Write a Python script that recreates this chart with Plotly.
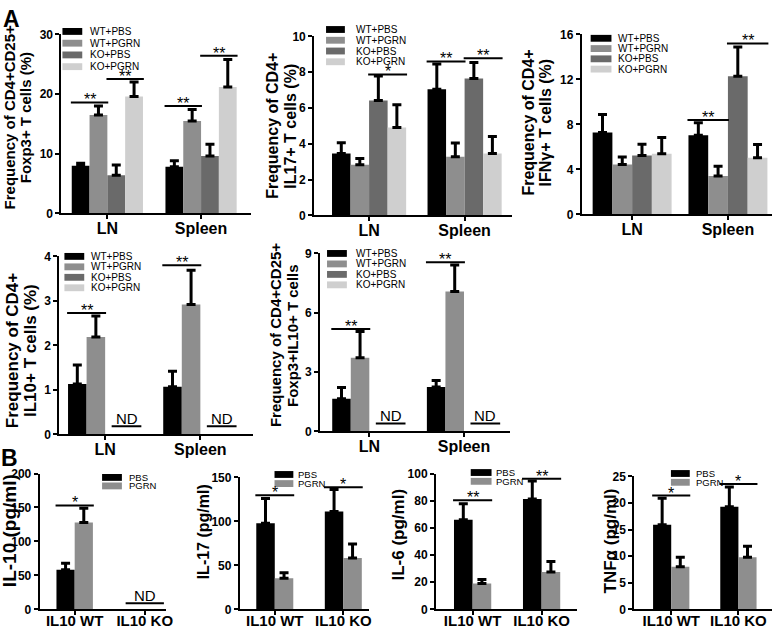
import plotly.graph_objects as go

W, H = 780, 636
FONT = "Arial, Liberation Sans, sans-serif"

# ---- data ----
groups_a = ["LN", "Spleen"]
series_a = ["WT+PBS", "WT+PGRN", "KO+PBS", "KO+PGRN"]
colors_a = ["#000000", "#8e8e8e", "#6a6a6a", "#cfcfcf"]

groups_b = ["IL10 WT", "IL10 KO"]
series_b = ["PBS", "PGRN"]
colors_b = ["#000000", "#8e8e8e"]

# each row = one series, values for [group0, group1]; None = not detected
treg_mean = [[8.0, 7.8], [16.5, 15.5], [6.4, 9.6], [19.6, 21.2]]
treg_err = [[0.4, 1.0], [1.5, 1.9], [1.7, 2.0], [2.4, 4.6]]
treg_sig = [(0, 0, 1, 18.6, "**"), (0, 2, 3, 22.5, "**"), (1, 0, 1, 18.0, "**"), (1, 2, 3, 26.4, "**")]

il17_mean = [[3.45, 7.05], [2.82, 3.27], [6.42, 7.64], [4.9, 3.45]]
il17_err = [[0.6, 1.4], [0.36, 0.77], [1.36, 0.9], [1.28, 0.95]]
il17_sig = [(0, 2, 3, 7.87, "*"), (1, 0, 1, 8.6, "**"), (1, 2, 3, 8.78, "**")]

ifng_mean = [[7.27, 7.04], [4.42, 3.4], [5.24, 12.28], [5.38, 5.03]]
ifng_err = [[1.6, 1.1], [0.67, 0.88], [1.0, 2.6], [1.46, 1.17]]
ifng_sig = [(1, 0, 1, 8.38, "**"), (1, 2, 3, 15.2, "**")]

il10_mean = [[1.13, 1.07], [2.19, 2.92], [None, None], [None, None]]
il10_err = [[0.43, 0.35], [0.47, 0.77], [None, None], [None, None]]
il10_sig = [(0, 0, 1, 2.73, "**"), (1, 0, 1, 3.8, "**")]
il10_nd = [(0, 2, 3), (1, 2, 3)]

tr1_mean = [[1.65, 2.25], [3.73, 7.07], [None, None], [None, None]]
tr1_err = [[0.57, 0.33], [1.32, 1.35], [None, None], [None, None]]
tr1_sig = [(0, 0, 1, 5.18, "**"), (1, 0, 1, 8.56, "**")]
tr1_nd = [(0, 2, 3), (1, 2, 3)]

sIL10_mean = [[58.5, None], [128.0, None]]
sIL10_err = [[9.5, None], [21.0, None]]
sIL10_sig = [(0, 0, 1, 153, "*")]
sIL10_nd = [(1, 0, 1)]

sIL17_mean = [[98.0, 111.4], [35.3, 58.3]]
sIL17_err = [[28.0, 25.0], [6.3, 16.0]]
sIL17_sig = [(0, 0, 1, 129.6, "*"), (1, 0, 1, 138.9, "*")]

sIL6_mean = [[66.0, 81.3], [19.0, 27.6]]
sIL6_err = [[11.7, 13.2], [3.0, 7.7]]
sIL6_sig = [(0, 0, 1, 80.3, "**"), (1, 0, 1, 96.2, "**")]

sTNF_mean = [[15.9, 19.3], [8.0, 9.8]]
sTNF_err = [[5.0, 3.7], [1.8, 2.1]]
sTNF_sig = [(0, 0, 1, 21.4, "*"), (1, 0, 1, 23.6, "*")]

# ---- panel layout (pixel boxes: left, right, top, bottom) ----
panels = [
    dict(mean=treg_mean, err=treg_err, sig=treg_sig, nd=[], grp=groups_a, ser=series_a, col=colors_a,
         box=(62, 253, 28, 211), xr=(-0.49, 1.53), ymax=30, dtick=10, bw=0.19,
         title=["Frequency of CD4+CD25+", "Foxp3+ T cells (%)"], tx=[10, 26], ty=113, ts=15,
         leg=(63, 83, 89, 25, 12), lfs=10, xfs=16),
    dict(mean=il17_mean, err=il17_err, sig=il17_sig, nd=[], grp=groups_a, ser=series_a, col=colors_a,
         box=(317, 517, 30, 213), xr=(-0.575, 1.5), ymax=10, dtick=2, bw=0.194,
         title=["Frequency of CD4+", "IL17+ T cells (%)"], tx=[275, 293], ty=122, ts=16,
         leg=(329, 348, 357, 23, 11), lfs=10, xfs=16),
    dict(mean=ifng_mean, err=ifng_err, sig=ifng_sig, nd=[], grp=groups_a, ser=series_a, col=colors_a,
         box=(587, 779, 28, 212), xr=(-0.526, 1.46), ymax=16, dtick=4, bw=0.206,
         title=["Frequency of CD4+", "IFNγ+ T cells (%)"], tx=[533, 550], ty=118, ts=16,
         leg=(596, 617, 622, 32, 10.5), lfs=10, xfs=16),
    dict(mean=il10_mean, err=il10_err, sig=il10_sig, nd=il10_nd, grp=groups_a, ser=series_a, col=colors_a,
         box=(60, 255, 255, 437), xr=(-0.48, 1.55), ymax=4, dtick=1, bw=0.195,
         title=["Frequency of CD4+", "IL10+ T cells (%)"], tx=[12, 31], ty=351, ts=17,
         leg=(65, 85, 90, 255, 10.7), lfs=10, xfs=16, ndspan=(0.15, 0.8)),
    dict(mean=tr1_mean, err=tr1_err, sig=tr1_sig, nd=tr1_nd, grp=groups_a, ser=series_a, col=colors_a,
         box=(323, 515, 252, 434), xr=(-0.52, 1.49), ymax=9, dtick=3, bw=0.196,
         title=["Frequency of CD4+CD25+", "Foxp3+IL10+ T cells"], tx=[278, 295], ty=336, ts=15,
         leg=(330, 350, 357, 252, 10.7), lfs=10, xfs=16, ndspan=(0.15, 0.8)),
    dict(mean=sIL10_mean, err=sIL10_err, sig=sIL10_sig, nd=sIL10_nd, grp=groups_b, ser=series_b, col=colors_b,
         box=(40, 168, 477, 616), xr=(-0.5, 1.31), ymax=200, dtick=50, bw=0.26,
         title=["IL-10 (pg/ml)"], tx=[9], ty=535, ts=19,
         leg=(103, 123, 128, 481, 8.7), lfs=9.5, xfs=15, ndspan=(0.0, 1.05)),
    dict(mean=sIL17_mean, err=sIL17_err, sig=sIL17_sig, nd=[], grp=groups_b, ser=series_b, col=colors_b,
         box=(242, 372, 481, 616), xr=(-0.51, 1.37), ymax=150, dtick=50, bw=0.27,
         title=["IL-17 (pg/ml)"], tx=[205], ty=537, ts=16,
         leg=(277, 296, 299, 478, 9.3), lfs=9.5, xfs=15),
    dict(mean=sIL6_mean, err=sIL6_err, sig=sIL6_sig, nd=[], grp=groups_b, ser=series_b, col=colors_b,
         box=(440, 582, 477, 616), xr=(-0.53, 1.51), ymax=100, dtick=20, bw=0.27,
         title=["IL-6 (pg/ml)"], tx=[402], ty=539, ts=17,
         leg=(475, 496, 498, 476, 9), lfs=9.5, xfs=15),
    dict(mean=sTNF_mean, err=sTNF_err, sig=sTNF_sig, nd=[], grp=groups_b, ser=series_b, col=colors_b,
         box=(640, 779, 480, 616), xr=(-0.55, 1.5), ymax=25, dtick=5, bw=0.27,
         title=["TNFα (pg/ml)"], tx=[617], ty=546, ts=17,
         leg=(677, 696, 700, 477, 9), lfs=9.5, xfs=15),
]

fig = go.Figure()
shapes = []
annotations = []


def px(xp):
    return xp / W


def py(yp):
    return 1 - yp / H


for k, p in enumerate(panels, start=1):
    xa = "x" if k == 1 else f"x{k}"
    ya = "y" if k == 1 else f"y{k}"
    n = len(p["ser"])
    bw = p["bw"]
    offs = [(i - (n - 1) / 2) * bw for i in range(n)]

    for i in range(n):
        xs, ys, es = [], [], []
        for g in range(len(p["grp"])):
            if p["mean"][i][g] is None:
                continue
            xs.append(g + offs[i])
            ys.append(p["mean"][i][g])
            es.append(p["err"][i][g])
        if not xs:
            continue
        fig.add_trace(go.Bar(
            x=xs, y=ys, width=bw, marker=dict(color=p["col"][i], line=dict(width=0)),
            error_y=dict(type="data", symmetric=False, array=es, arrayminus=[0] * len(es),
                         color="black", thickness=3, width=4.5),
            xaxis=xa, yaxis=ya, showlegend=False, hoverinfo="skip",
        ))

    # significance bars
    for g, a, b, yv, lab in p["sig"]:
        x0 = g + offs[a] - bw * 0.55
        x1 = g + offs[b] + bw * 0.55
        shapes.append(dict(type="line", xref=xa, yref=ya, x0=x0, x1=x1, y0=yv, y1=yv,
                           line=dict(color="black", width=2)))
        annotations.append(dict(xref=xa, yref=ya, x=(x0 + x1) / 2, y=yv, text=lab, showarrow=False,
                                yanchor="bottom", yshift=-8, font=dict(family=FONT, size=16, color="black")))

    # not detected
    for g, a, b in p["nd"]:
        shift, half = p["ndspan"]
        c = g + (offs[a] + offs[b]) / 2 + shift * bw
        yv = p["ymax"] * 0.045
        shapes.append(dict(type="line", xref=xa, yref=ya, x0=c - half * bw, x1=c + half * bw, y0=yv, y1=yv,
                           line=dict(color="black", width=2)))
        annotations.append(dict(xref=xa, yref=ya, x=c, y=yv, text="ND", showarrow=False,
                                yanchor="bottom", yshift=-3, font=dict(family=FONT, size=15, color="black")))

    l, r, t, b = p["box"]
    axis_common = dict(showline=True, linecolor="black", linewidth=2, ticks="outside", ticklen=4,
                       tickwidth=2, tickcolor="black", showgrid=False, zeroline=False, fixedrange=True)
    fig.layout[xa.replace("x", "xaxis")] = dict(
        domain=[px(l), px(r)], range=list(p["xr"]), anchor=ya,
        tickmode="array", tickvals=list(range(len(p["grp"]))), ticktext=p["grp"],
        ticklabelstandoff=-5 if n == 4 else -7,
        tickfont=dict(family=FONT, size=p["xfs"], color="black", weight="bold"), **axis_common)
    fig.layout[ya.replace("y", "yaxis")] = dict(
        domain=[py(b), py(t)], range=[0, p["ymax"]], anchor=xa, dtick=p["dtick"], tick0=0,
        tickfont=dict(family=FONT, size=12, color="black", weight="bold"), **axis_common)

    # y title, one annotation per line
    for line_text, tx in zip(p["title"], p["tx"]):
        annotations.append(dict(xref="paper", yref="paper", x=px(tx), y=py(p["ty"]), text=line_text,
                                textangle=-90, showarrow=False, xanchor="center", yanchor="middle",
                                font=dict(family=FONT, size=p["ts"], color="black", weight="bold")))

    # legend
    sx0, sx1, ltx, cy0, step = p["leg"]
    for i, name in enumerate(p["ser"]):
        cy = cy0 + i * step
        shapes.append(dict(type="rect", xref="paper", yref="paper", x0=px(sx0), x1=px(sx1),
                           y0=py(cy + 3.5), y1=py(cy - 3.5), fillcolor=p["col"][i], line=dict(width=0)))
        annotations.append(dict(xref="paper", yref="paper", x=px(ltx), y=py(cy), text=name, showarrow=False,
                                xanchor="left", yanchor="middle",
                                font=dict(family=FONT, size=p["lfs"], color="black")))

# panel letters
annotations.append(dict(xref="paper", yref="paper", x=px(1), y=py(-3), text="A", showarrow=False,
                        xanchor="left", yanchor="top", font=dict(family=FONT, size=23, color="black", weight="bold")))
annotations.append(dict(xref="paper", yref="paper", x=px(-1), y=py(446), text="B", showarrow=False,
                        xanchor="left", yanchor="top", font=dict(family=FONT, size=23, color="black", weight="bold")))

fig.update_layout(
    width=W, height=H, margin=dict(l=0, r=0, t=0, b=0),
    paper_bgcolor="white", plot_bgcolor="white", barmode="overlay",
    shapes=shapes, annotations=annotations, showlegend=False,
)

# page body has a default margin; drop it so the figure sits at the window corner
fig.write_html("out.html", config={"displayModeBar": False},
               post_script="document.body.style.margin = '0';")
